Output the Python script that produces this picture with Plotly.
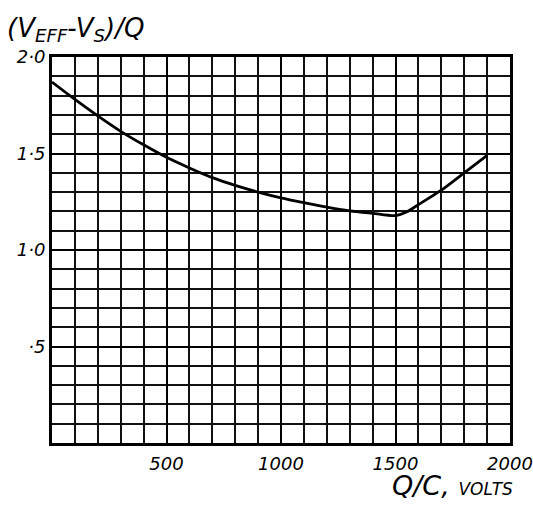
import plotly.graph_objects as go

# Data
q_over_c = [0, 100, 200, 300, 400, 500, 600, 700, 800, 900, 1000, 1100, 1200,
            1300, 1400, 1500, 1550, 1600, 1700, 1800, 1900]
ratio = [1.87, 1.78, 1.695, 1.615, 1.545, 1.48, 1.425, 1.375, 1.335, 1.30, 1.27,
         1.245, 1.222, 1.203, 1.19, 1.178, 1.198, 1.235, 1.31, 1.40, 1.49]

x_tickvals = [500, 1000, 1500, 2000]
x_ticktext = ["500", "1000", "1500", "2000"]
y_tickvals = [0.5, 1.0, 1.5, 2.0]
y_ticktext = ["·5", "1·0", "1·5", "2·0"]

fig = go.Figure()
fig.add_trace(go.Scatter(
    x=q_over_c, y=ratio, mode="lines",
    line=dict(color="black", width=2.8, shape="spline", smoothing=0.8),
    hoverinfo="skip", showlegend=False,
))

tickfont = dict(family="DejaVu Sans", size=18, color="black", style="italic")

fig.update_xaxes(
    range=[0, 2000], tickvals=x_tickvals, ticktext=x_ticktext,
    showgrid=True, gridcolor="black", gridwidth=2.2,
    minor=dict(dtick=100, showgrid=True, gridcolor="#111", gridwidth=1.5, ticks=""),
    showline=True, linecolor="black", linewidth=3, mirror=True,
    ticks="", tickfont=tickfont, zeroline=False, ticklabelstandoff=2,
    automargin=False,
)
fig.update_yaxes(
    range=[0, 2.0], tickvals=y_tickvals, ticktext=y_ticktext,
    showgrid=True, gridcolor="black", gridwidth=1.8,
    minor=dict(dtick=0.1, showgrid=True, gridcolor="#111", gridwidth=1.5, ticks=""),
    showline=True, linecolor="black", linewidth=3, mirror=True,
    ticks="", tickfont=tickfont, zeroline=False, ticklabelstandoff=0,
    automargin=False,
)

fig.add_annotation(
    xref="paper", yref="paper", x=-0.103, y=1.072, xanchor="left", yanchor="middle",
    text="(V<sub>EFF</sub>-V<sub>S</sub>)/Q", showarrow=False,
    font=dict(family="DejaVu Sans", size=26, color="black", style="italic"),
)
fig.add_annotation(
    xref="paper", yref="paper", x=1.012, y=-0.11, xanchor="right", yanchor="middle",
    text="Q/C, <span style='font-size:17px'>VOLTS</span>", showarrow=False,
    font=dict(family="DejaVu Sans", size=27, color="black", style="italic"),
)

fig.update_layout(
    width=533, height=513,
    margin=dict(l=52, r=23, t=57, b=70),
    paper_bgcolor="white", plot_bgcolor="white",
)

fig.write_html("out.html")
